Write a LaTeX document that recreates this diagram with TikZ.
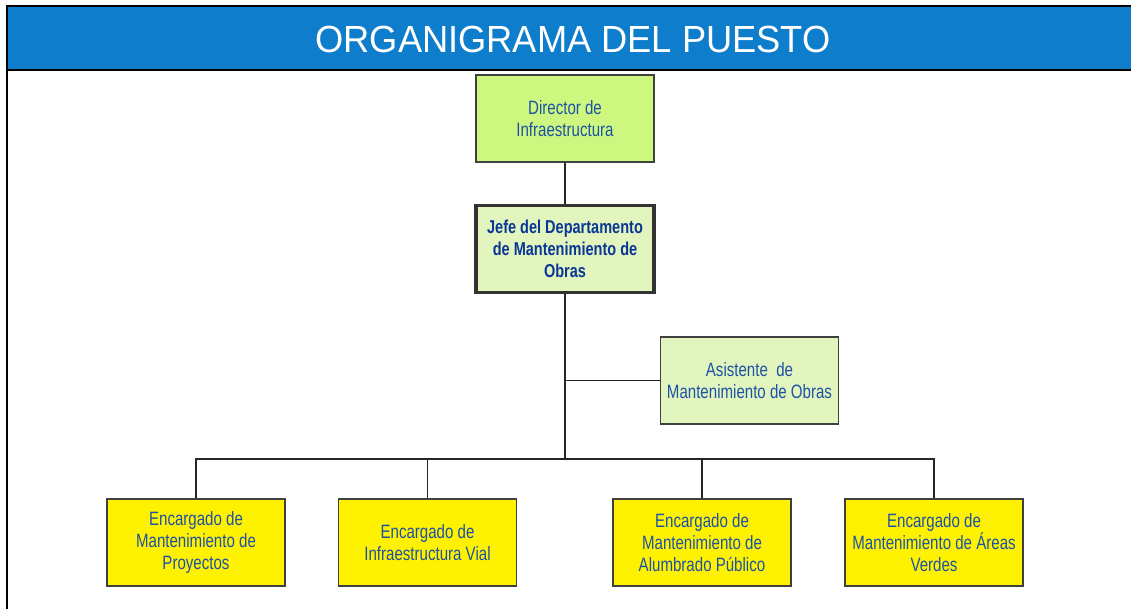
\documentclass[tikz,border=0pt]{standalone}
\usepackage{fontspec}
\setmainfont{Liberation Sans}
\newfontfamily\narrowfont[FakeStretch=0.78]{Liberation Sans}
\newfontfamily\titlefont[FakeStretch=0.96]{Liberation Sans}
\usepackage{xcolor}
\definecolor{barblue}{RGB}{14,126,204}
\definecolor{txtblue}{RGB}{28,82,165}
\definecolor{jefeblue}{RGB}{10,55,150}
\definecolor{lime}{RGB}{206,247,128}
\definecolor{palegreen}{RGB}{226,245,190}
\definecolor{boxyellow}{RGB}{255,242,0}
\tikzstyle{puesto} = [rectangle, draw=black!75, line width=0.8pt, text=txtblue,
                      minimum width=3.56cm, minimum height=1.74cm, align=center,
                      font=\narrowfont\fontsize{11}{12.5}\selectfont]
\tikzstyle{director} = [puesto, fill=lime]
\tikzstyle{jefe} = [puesto, fill=palegreen, draw=black!80, line width=2.2pt,
                    text=jefeblue, font=\narrowfont\bfseries\fontsize{10.6}{12.5}\selectfont]
\tikzstyle{asistente} = [puesto, fill=palegreen]
\tikzstyle{encargado} = [puesto, fill=boxyellow]
\tikzstyle{link} = [line width=0.8pt, black!85]

\begin{document}
\begin{tikzpicture}[x=0.02cm,y=-0.02cm]
    \useasboundingbox (0,0) rectangle (1131,609);
    % title bar
    \fill[barblue] (7,6) rectangle (1131,70);
    \draw[line width=1.2pt] (1131,6) -- (7,6) -- (7,609);
    \draw[line width=1.2pt] (7,70) -- (1131,70);
    \node[text=white, font=\titlefont\fontsize{21.5}{26}\selectfont] (titulo) at (573,39) {ORGANIGRAMA DEL PUESTO};
    % puestos
    \node[director] (dir) at (565,118.5) {Director de\\Infraestructura};
    \node[jefe] (jefe) [below of=dir,node distance=2.61cm] {Jefe del Departamento\\de Mantenimiento de\\Obras} edge [link] (dir);
    \node[asistente] (asis) at (749.5,380.5) {Asistente\ \ de\\Mantenimiento de Obras};
    \coordinate (bus) at (565,459);
    \node[encargado] (proy) at (196,542.5) {Encargado de\\Mantenimiento de\\Proyectos};
    \node[encargado] (vial) at (427.5,542.5) {Encargado de\\Infraestructura Vial};
    \node[encargado] (alum) at (702,542.5) {Encargado de\\Mantenimiento de\\Alumbrado Público};
    \node[encargado] (verdes) at (934,542.5) {Encargado de\\Mantenimiento de Áreas\\Verdes};
    % lineas
    \draw[link] (jefe.south) -- (bus);
    \draw[link] (asis.west) -- (asis.west -| bus);
    \draw[link] (proy.north) |- (bus) -| (verdes.north);
    \draw[link] (vial.north) -- (vial.north |- bus);
    \draw[link] (alum.north) -- (alum.north |- bus);
\end{tikzpicture}
\end{document}
